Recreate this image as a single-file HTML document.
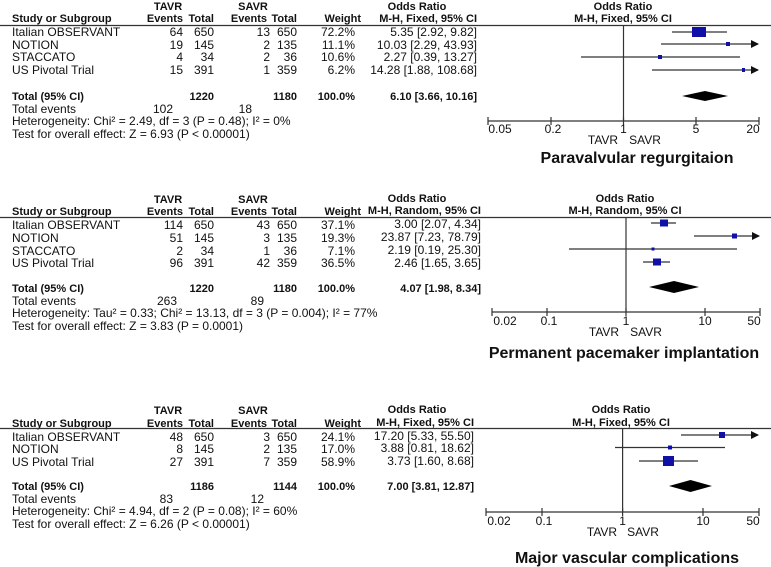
<!DOCTYPE html>
<html><head><meta charset="utf-8"><style>
body{margin:0;background:#fff}
svg{display:block}
text{font-family:"Liberation Sans",Arial,sans-serif;font-size:12px;fill:#111}
.b{font-weight:bold;font-size:11px}
.r{text-anchor:end}
.c{text-anchor:middle}
.t{font-size:16px;font-weight:bold;text-anchor:middle}
line{stroke:#333;stroke-width:1.2}
.sq{fill:#1010a8}
</style></head><body>
<svg width="771" height="567" viewBox="0 0 771 567">
<defs><marker id="ar" markerWidth="8" markerHeight="8" refX="7" refY="4" orient="auto" markerUnits="userSpaceOnUse"><path d="M0,0 L8,4 L0,8 z" fill="#111"/></marker></defs>

<!-- PANEL 1 -->
<g>
<text class="b c" x="168" y="10">TAVR</text><text class="b c" x="253" y="10">SAVR</text>
<text class="b c" x="417" y="10">Odds Ratio</text><text class="b c" x="623" y="10">Odds Ratio</text>
<text class="b" x="12" y="22">Study or Subgroup</text>
<text class="b r" x="183" y="22">Events</text><text class="b r" x="214" y="22">Total</text>
<text class="b r" x="267" y="22">Events</text><text class="b r" x="297" y="22">Total</text>
<text class="b r" x="361" y="22">Weight</text><text class="b r" x="477" y="22">M-H, Fixed, 95% CI</text>
<text class="b c" x="623" y="22">M-H, Fixed, 95% CI</text>
<line x1="0" y1="25.5" x2="771" y2="25.5"/>
<text x="12" y="36">Italian OBSERVANT</text><text class="r" x="183" y="36">64</text><text class="r" x="214" y="36">650</text><text class="r" x="270" y="36">13</text><text class="r" x="297" y="36">650</text><text class="r" x="355" y="36">72.2%</text><text class="r" x="477" y="36">5.35 [2.92, 9.82]</text>
<text x="12" y="49">NOTION</text><text class="r" x="183" y="49">19</text><text class="r" x="214" y="49">145</text><text class="r" x="270" y="49">2</text><text class="r" x="297" y="49">135</text><text class="r" x="355" y="49">11.1%</text><text class="r" x="477" y="49">10.03 [2.29, 43.93]</text>
<text x="12" y="61">STACCATO</text><text class="r" x="183" y="61">4</text><text class="r" x="214" y="61">34</text><text class="r" x="270" y="61">2</text><text class="r" x="297" y="61">36</text><text class="r" x="355" y="61">10.6%</text><text class="r" x="477" y="61">2.27 [0.39, 13.27]</text>
<text x="12" y="74">US Pivotal Trial</text><text class="r" x="183" y="74">15</text><text class="r" x="214" y="74">391</text><text class="r" x="270" y="74">1</text><text class="r" x="297" y="74">359</text><text class="r" x="355" y="74">6.2%</text><text class="r" x="477" y="74">14.28 [1.88, 108.68]</text>
<text class="b" x="12" y="100">Total (95% CI)</text><text class="b r" x="214" y="100">1220</text><text class="b r" x="297" y="100">1180</text><text class="b r" x="355" y="100">100.0%</text><text class="b r" x="477" y="100">6.10 [3.66, 10.16]</text>
<text x="12" y="113">Total events</text><text class="r" x="173" y="113">102</text><text class="r" x="252" y="113">18</text>
<text x="12" y="125">Heterogeneity: Chi² = 2.49, df = 3 (P = 0.48); I² = 0%</text>
<text x="12" y="138">Test for overall effect: Z = 6.93 (P &lt; 0.00001)</text>
<line x1="623.5" y1="25" x2="623.5" y2="121"/>
<line x1="672" y1="32" x2="727" y2="32"/><rect class="sq" x="692" y="27" width="14" height="10"/>
<line x1="661" y1="44" x2="758" y2="44" marker-end="url(#ar)"/><rect class="sq" x="726" y="42" width="4" height="4"/>
<line x1="581" y1="57" x2="740" y2="57"/><rect class="sq" x="658" y="55" width="4" height="4"/>
<line x1="652" y1="70" x2="758" y2="70" marker-end="url(#ar)"/><rect class="sq" x="742" y="68" width="3" height="4"/>
<polygon points="682,96 705,91 728,96 705,101" fill="#000"/>
<line x1="488" y1="121" x2="759" y2="121"/>
<line x1="488" y1="117" x2="488" y2="125"/><line x1="551" y1="117" x2="551" y2="125"/><line x1="623.5" y1="117" x2="623.5" y2="125"/><line x1="696" y1="117" x2="696" y2="125"/><line x1="759" y1="117" x2="759" y2="125"/>
<text class="c" x="500" y="133">0.05</text><text class="c" x="553" y="133">0.2</text><text class="c" x="623.5" y="133">1</text><text class="c" x="696" y="133">5</text><text class="c" x="753" y="133">20</text>
<text class="c" x="603" y="144">TAVR</text><text class="c" x="645" y="144">SAVR</text>
<text class="t" x="637" y="163">Paravalvular regurgitaion</text>
</g>

<!-- PANEL 2 -->
<g>
<text class="b c" x="168" y="203">TAVR</text><text class="b c" x="253" y="203">SAVR</text>
<text class="b c" x="417" y="202">Odds Ratio</text><text class="b c" x="625" y="202">Odds Ratio</text>
<text class="b" x="12" y="215">Study or Subgroup</text>
<text class="b r" x="183" y="215">Events</text><text class="b r" x="214" y="215">Total</text>
<text class="b r" x="267" y="215">Events</text><text class="b r" x="297" y="215">Total</text>
<text class="b r" x="361" y="215">Weight</text><text class="b r" x="481" y="214">M-H, Random, 95% CI</text>
<text class="b c" x="625" y="214">M-H, Random, 95% CI</text>
<line x1="0" y1="217.5" x2="771" y2="217.5"/>
<text x="12" y="229">Italian OBSERVANT</text><text class="r" x="183" y="229">114</text><text class="r" x="214" y="229">650</text><text class="r" x="270" y="229">43</text><text class="r" x="297" y="229">650</text><text class="r" x="355" y="229">37.1%</text><text class="r" x="481" y="228">3.00 [2.07, 4.34]</text>
<text x="12" y="242">NOTION</text><text class="r" x="183" y="242">51</text><text class="r" x="214" y="242">145</text><text class="r" x="270" y="242">3</text><text class="r" x="297" y="242">135</text><text class="r" x="355" y="242">19.3%</text><text class="r" x="481" y="241">23.87 [7.23, 78.79]</text>
<text x="12" y="255">STACCATO</text><text class="r" x="183" y="255">2</text><text class="r" x="214" y="255">34</text><text class="r" x="270" y="255">1</text><text class="r" x="297" y="255">36</text><text class="r" x="355" y="255">7.1%</text><text class="r" x="481" y="254">2.19 [0.19, 25.30]</text>
<text x="12" y="267">US Pivotal Trial</text><text class="r" x="183" y="267">96</text><text class="r" x="214" y="267">391</text><text class="r" x="270" y="267">42</text><text class="r" x="297" y="267">359</text><text class="r" x="355" y="267">36.5%</text><text class="r" x="481" y="267">2.46 [1.65, 3.65]</text>
<text class="b" x="12" y="292">Total (95% CI)</text><text class="b r" x="214" y="292">1220</text><text class="b r" x="297" y="292">1180</text><text class="b r" x="355" y="292">100.0%</text><text class="b r" x="481" y="292">4.07 [1.98, 8.34]</text>
<text x="12" y="305">Total events</text><text class="r" x="177" y="305">263</text><text class="r" x="264" y="305">89</text>
<text x="12" y="317">Heterogeneity: Tau² = 0.33; Chi² = 13.13, df = 3 (P = 0.004); I² = 77%</text>
<text x="12" y="330">Test for overall effect: Z = 3.83 (P = 0.0001)</text>
<line x1="626" y1="217" x2="626" y2="312"/>
<line x1="651" y1="223" x2="676" y2="223"/><rect class="sq" x="660" y="219.5" width="8" height="7"/>
<line x1="694" y1="236" x2="759" y2="236" marker-end="url(#ar)"/><rect class="sq" x="732" y="233.5" width="5" height="5"/>
<line x1="569" y1="249" x2="737" y2="249"/><rect class="sq" x="651.5" y="247.5" width="3" height="3"/>
<line x1="643" y1="262" x2="670" y2="262"/><rect class="sq" x="653" y="258.5" width="8" height="7"/>
<polygon points="649,287 674,281 699,287 674,293" fill="#000"/>
<line x1="492" y1="312" x2="760" y2="312"/>
<line x1="492" y1="308" x2="492" y2="316"/><line x1="547" y1="308" x2="547" y2="316"/><line x1="626" y1="308" x2="626" y2="316"/><line x1="705" y1="308" x2="705" y2="316"/><line x1="760" y1="308" x2="760" y2="316"/>
<text class="c" x="505" y="325">0.02</text><text class="c" x="549" y="325">0.1</text><text class="c" x="626" y="325">1</text><text class="c" x="705" y="325">10</text><text class="c" x="754" y="325">50</text>
<text class="c" x="604" y="336">TAVR</text><text class="c" x="646" y="336">SAVR</text>
<text class="t" x="624" y="358">Permanent pacemaker implantation</text>
</g>

<!-- PANEL 3 -->
<g>
<text class="b c" x="168" y="414">TAVR</text><text class="b c" x="253" y="414">SAVR</text>
<text class="b c" x="417" y="413">Odds Ratio</text><text class="b c" x="621" y="413">Odds Ratio</text>
<text class="b" x="12" y="427">Study or Subgroup</text>
<text class="b r" x="183" y="427">Events</text><text class="b r" x="214" y="427">Total</text>
<text class="b r" x="267" y="427">Events</text><text class="b r" x="297" y="427">Total</text>
<text class="b r" x="361" y="427">Weight</text><text class="b r" x="474" y="426">M-H, Fixed, 95% CI</text>
<text class="b c" x="621" y="426">M-H, Fixed, 95% CI</text>
<line x1="0" y1="428.5" x2="771" y2="428.5"/>
<text x="12" y="441">Italian OBSERVANT</text><text class="r" x="183" y="441">48</text><text class="r" x="214" y="441">650</text><text class="r" x="270" y="441">3</text><text class="r" x="297" y="441">650</text><text class="r" x="355" y="441">24.1%</text><text class="r" x="474" y="440">17.20 [5.33, 55.50]</text>
<text x="12" y="453">NOTION</text><text class="r" x="183" y="453">8</text><text class="r" x="214" y="453">145</text><text class="r" x="270" y="453">2</text><text class="r" x="297" y="453">135</text><text class="r" x="355" y="453">17.0%</text><text class="r" x="474" y="452">3.88 [0.81, 18.62]</text>
<text x="12" y="466">US Pivotal Trial</text><text class="r" x="183" y="466">27</text><text class="r" x="214" y="466">391</text><text class="r" x="270" y="466">7</text><text class="r" x="297" y="466">359</text><text class="r" x="355" y="466">58.9%</text><text class="r" x="474" y="465">3.73 [1.60, 8.68]</text>
<text class="b" x="12" y="490">Total (95% CI)</text><text class="b r" x="214" y="490">1186</text><text class="b r" x="297" y="490">1144</text><text class="b r" x="355" y="490">100.0%</text><text class="b r" x="474" y="490">7.00 [3.81, 12.87]</text>
<text x="12" y="503">Total events</text><text class="r" x="173" y="503">83</text><text class="r" x="264" y="503">12</text>
<text x="12" y="515">Heterogeneity: Chi² = 4.94, df = 2 (P = 0.08); I² = 60%</text>
<text x="12" y="528">Test for overall effect: Z = 6.26 (P &lt; 0.00001)</text>
<line x1="622.6" y1="428" x2="622.6" y2="512"/>
<line x1="681" y1="435" x2="758" y2="435" marker-end="url(#ar)"/><rect class="sq" x="719" y="432" width="6" height="6"/>
<line x1="615" y1="447.5" x2="725" y2="447.5"/><rect class="sq" x="668" y="445.5" width="4" height="4"/>
<line x1="639" y1="461" x2="698" y2="461"/><rect class="sq" x="663" y="456" width="11" height="10"/>
<polygon points="669,486 690.5,480 712,486 690.5,492" fill="#000"/>
<line x1="486" y1="512" x2="759" y2="512"/>
<line x1="486" y1="508" x2="486" y2="516"/><line x1="542" y1="508" x2="542" y2="516"/><line x1="622.6" y1="508" x2="622.6" y2="516"/><line x1="703" y1="508" x2="703" y2="516"/><line x1="759" y1="508" x2="759" y2="516"/>
<text class="c" x="499" y="525">0.02</text><text class="c" x="544" y="525">0.1</text><text class="c" x="622.6" y="525">1</text><text class="c" x="703" y="525">10</text><text class="c" x="753" y="525">50</text>
<text class="c" x="602" y="536">TAVR</text><text class="c" x="643" y="536">SAVR</text>
<text class="t" x="627" y="563">Major vascular complications</text>
</g>
</svg>
</body></html>
